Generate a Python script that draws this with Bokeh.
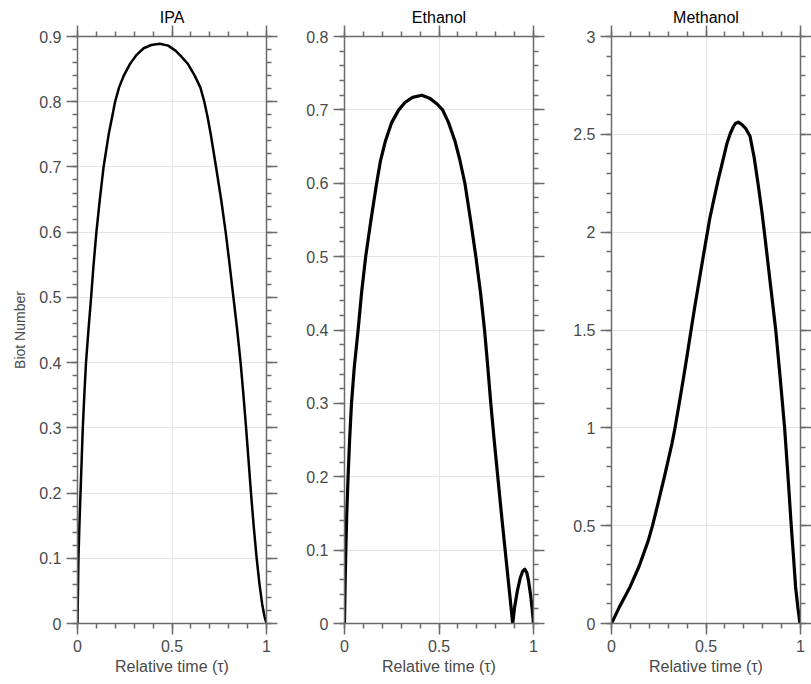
from bokeh.plotting import figure
from bokeh.layouts import row
from bokeh.models import (LinearAxis, SingleIntervalTicker, Range1d,
                          CustomJSTickFormatter, ColumnDataSource)
from bokeh.embed import file_html
from bokeh.resources import INLINE

# ---------------- data ----------------
titles = ["IPA", "Ethanol", "Methanol"]

ipa_tau = [0.0, 0.005, 0.01, 0.016, 0.022, 0.028, 0.036, 0.045, 0.058, 0.072,
           0.085, 0.1, 0.118, 0.138, 0.165, 0.18, 0.199, 0.22, 0.245, 0.278,
           0.31, 0.35, 0.39, 0.435, 0.48, 0.52, 0.55, 0.584, 0.62, 0.65,
           0.671, 0.688, 0.705, 0.733, 0.76, 0.784, 0.805, 0.825, 0.845, 0.863,
           0.878, 0.892, 0.905, 0.918, 0.932, 0.948, 0.963, 0.977, 0.99, 1.0]
ipa_bi = [0.0, 0.1, 0.15, 0.2, 0.25, 0.3, 0.35, 0.4, 0.45, 0.5,
          0.55, 0.6, 0.65, 0.7, 0.75, 0.772, 0.8, 0.822, 0.84, 0.858,
          0.871, 0.882, 0.887, 0.889, 0.886, 0.878, 0.869, 0.858, 0.84, 0.822,
          0.8, 0.777, 0.75, 0.7, 0.65, 0.6, 0.55, 0.5, 0.45, 0.4,
          0.35, 0.3, 0.25, 0.2, 0.15, 0.1, 0.06, 0.03, 0.01, 0.0]

eth_tau = [0.0, 0.003, 0.007, 0.012, 0.019, 0.027, 0.037, 0.052, 0.072, 0.09,
           0.112, 0.14, 0.17, 0.19, 0.217, 0.25, 0.287, 0.32, 0.36, 0.409,
           0.45, 0.49, 0.519, 0.55, 0.584, 0.61, 0.637, 0.667, 0.695, 0.72,
           0.741, 0.758, 0.774, 0.792, 0.811, 0.83, 0.85, 0.87, 0.89, 0.90,
           0.915, 0.93, 0.942, 0.954, 0.965, 0.975, 0.985, 0.993, 1.0]
eth_bi = [0.0, 0.05, 0.1, 0.15, 0.2, 0.25, 0.3, 0.35, 0.4, 0.45,
          0.5, 0.55, 0.6, 0.63, 0.658, 0.683, 0.7, 0.71, 0.717, 0.72,
          0.716, 0.708, 0.7, 0.683, 0.658, 0.632, 0.6, 0.55, 0.5, 0.45,
          0.4, 0.35, 0.3, 0.25, 0.2, 0.15, 0.1, 0.05, 0.0, 0.022,
          0.045, 0.062, 0.071, 0.074, 0.069, 0.056, 0.038, 0.02, 0.0]

met_tau = [0.0, 0.02, 0.042, 0.07, 0.098, 0.12, 0.145, 0.17, 0.195, 0.217,
           0.24, 0.26, 0.28, 0.30, 0.32, 0.336, 0.36, 0.38, 0.40, 0.421,
           0.44, 0.46, 0.48, 0.5, 0.52, 0.54, 0.565, 0.59, 0.61, 0.628,
           0.645, 0.655, 0.671, 0.69, 0.71, 0.733, 0.755, 0.775, 0.795, 0.814,
           0.84, 0.869, 0.893, 0.916, 0.934, 0.951, 0.963, 0.974, 0.985, 0.997]
met_bi = [0.0, 0.04, 0.085, 0.135, 0.187, 0.235, 0.29, 0.357, 0.425, 0.5,
          0.59, 0.67, 0.75, 0.835, 0.92, 1.0, 1.135, 1.25, 1.37, 1.5,
          1.615, 1.73, 1.845, 1.958, 2.07, 2.16, 2.27, 2.37, 2.45, 2.503,
          2.54, 2.555, 2.562, 2.55, 2.53, 2.49, 2.38, 2.25, 2.11, 1.958,
          1.74, 1.5, 1.25, 1.0, 0.75, 0.5, 0.34, 0.187, 0.09, 0.0]

y_max = [0.9, 0.8, 3.0]
y_step = [0.1, 0.1, 0.5]
line_w = [2.5, 3.2, 3.2]

series = [(ipa_tau, ipa_bi), (eth_tau, eth_bi), (met_tau, met_bi)]

# ---------------- layout ----------------
FRAME_W = 189
TOP = 36
FRAME_H = 587
BOTTOM = 56
lefts = [77, 58, 58]
rights = [20, 20, 11]

AX = "#6b6b6b"
LBL = "#4a4a4a"
FONT = "Liberation Sans"

fmt = CustomJSTickFormatter(code="return String(Number(tick.toFixed(3)));")

figs = []
for i in range(3):
    p = figure(width=lefts[i] + FRAME_W + rights[i],
               height=TOP + FRAME_H + BOTTOM,
               output_backend="svg", toolbar_location=None,
               x_range=Range1d(0, 1), y_range=Range1d(0, y_max[i]),
               min_border_left=lefts[i], min_border_right=rights[i],
               min_border_top=TOP, min_border_bottom=BOTTOM,
               x_axis_location=None, y_axis_location=None)
    p.outline_line_color = None
    p.background_fill_color = "white"
    p.border_fill_color = "white"

    p.title.text = titles[i]
    p.title.align = "center"
    p.title.text_font = FONT
    p.title.text_font_size = "16px"
    p.title.text_font_style = "normal"
    p.title.text_color = "black"
    p.title.standoff = 0
    p.title.offset = 0

    def xt():
        return SingleIntervalTicker(interval=0.5, num_minor_ticks=5)

    def yt():
        return SingleIntervalTicker(interval=y_step[i], num_minor_ticks=5)

    def style(ax, labels=True, lbl_size="16px", lbl_standoff=3):
        ax.axis_line_color = AX
        ax.axis_line_width = 1.5
        ax.major_tick_line_color = AX
        ax.minor_tick_line_color = AX
        ax.major_tick_line_width = 1.5
        ax.minor_tick_line_width = 1.5
        ax.major_tick_out = 11
        ax.major_tick_in = 0
        ax.minor_tick_out = 5
        ax.minor_tick_in = 0
        if labels:
            ax.formatter = fmt
            ax.major_label_text_font = FONT
            ax.major_label_text_font_size = "16px"
            ax.major_label_text_color = LBL
            ax.major_label_standoff = 5
            ax.axis_label_text_font = FONT
            ax.axis_label_text_font_size = lbl_size
            ax.axis_label_text_font_style = "normal"
            ax.axis_label_text_color = LBL
            ax.axis_label_standoff = lbl_standoff
        else:
            ax.major_label_text_font_size = "0px"
            ax.major_label_text_color = None
            ax.major_label_standoff = 0
            ax.axis_label = None

    bx = LinearAxis(ticker=xt(), axis_label="Relative time (\u03c4)")
    style(bx, lbl_size="16px", lbl_standoff=3)
    p.add_layout(bx, "below")

    tx = LinearAxis(ticker=xt())
    style(tx, labels=False)
    p.add_layout(tx, "above")

    ly = LinearAxis(ticker=yt(), axis_label="Biot Number" if i == 0 else None)
    style(ly, lbl_size="14px", lbl_standoff=8)
    p.add_layout(ly, "left")

    ry = LinearAxis(ticker=yt())
    style(ry, labels=False)
    p.add_layout(ry, "right")

    p.xgrid.ticker = xt()
    p.ygrid.ticker = yt()
    for g in (p.xgrid, p.ygrid):
        g.grid_line_color = "#e4e4e4"
        g.grid_line_width = 1

    tau, bi = series[i]
    src = ColumnDataSource(dict(x=tau, y=bi))
    p.line("x", "y", source=src, line_color="black", line_width=line_w[i],
           line_join="round", line_cap="round")
    figs.append(p)

layout = row(*figs, spacing=0)
open("out.html", "w").write(file_html(layout, INLINE))
